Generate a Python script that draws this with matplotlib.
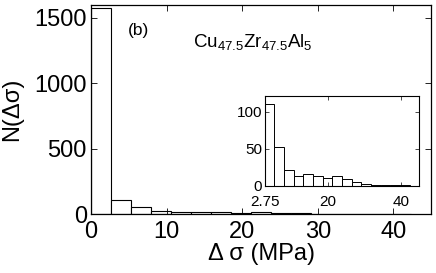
import matplotlib
import matplotlib.pyplot as plt

matplotlib.use("Agg")

plt.rcParams["font.family"] = ["Liberation Sans", "DejaVu Sans"]
plt.rcParams["mathtext.fontset"] = "custom"
plt.rcParams["mathtext.rm"] = "Liberation Sans"
plt.rcParams["mathtext.it"] = "Liberation Sans:italic"

# histogram of stress drops (bin edges in MPa, counts per bin)
bin_edges = [0.0, 2.65, 5.3, 7.95, 10.6, 13.25, 15.9, 18.55, 21.2, 23.85,
             26.5, 29.15, 31.8, 34.45, 37.1, 39.75, 42.4]
counts = [1575, 111, 53, 22, 14, 16, 14, 11, 13, 9, 5, 3, 1, 1, 2, 1]

main_xticks = [0, 10, 20, 30, 40]
main_yticks = [0, 500, 1000, 1500]
inset_xticks = [2.75, 20, 40]
inset_xticklabels = ["2.75", "20", "40"]
inset_yticks = [0, 50, 100]


def _draw_hist(ax, edges, values, lw=0.8):
    lefts = edges[:-1]
    widths = [b - a for a, b in zip(edges[:-1], edges[1:])]
    ax.bar(lefts, values, width=widths, align="edge",
           facecolor="white", edgecolor="black", linewidth=lw)


fig = plt.figure(figsize=(4.36, 2.73), dpi=100)
ax = fig.add_axes([0.2087, 0.216, 0.78, 0.766])
_draw_hist(ax, bin_edges, counts)
ax.set_xlim(0, 45)
ax.set_ylim(0, 1600)
ax.set_xticks(main_xticks)
ax.set_yticks(main_yticks)
ax.tick_params(direction="in", top=True, right=True, labelsize=17,
               length=4, width=0.6)
ax.tick_params(axis="x", pad=5)
ax.tick_params(axis="y", pad=3)
ax.set_xlabel(r"Δ σ (MPa)", fontsize=17, labelpad=0)
ax.set_ylabel(r"N(Δσ)", fontsize=17, labelpad=8)
for s in ax.spines.values():
    s.set_linewidth(0.9)

ax.text(0.108, 0.855, "(b)", transform=ax.transAxes, fontsize=12.5)
ax.text(0.3, 0.80, r"Cu$_{47.5}$Zr$_{47.5}$Al$_5$", transform=ax.transAxes,
        fontsize=13.5)

ins = fig.add_axes([0.6078, 0.3187, 0.3532, 0.3293])
_draw_hist(ins, bin_edges[1:], counts[1:], lw=0.7)
ins.set_xlim(2.75, 45)
ins.set_ylim(0, 121)
ins.set_xticks(inset_xticks)
ins.set_xticklabels(inset_xticklabels)
ins.set_yticks(inset_yticks)
ins.tick_params(direction="in", top=True, right=True, labelsize=11,
                length=3, width=0.5, pad=2)
ins.tick_params(axis="x", pad=6.5)
for s in ins.spines.values():
    s.set_linewidth(0.8)

fig.savefig("out.png", dpi=100)
